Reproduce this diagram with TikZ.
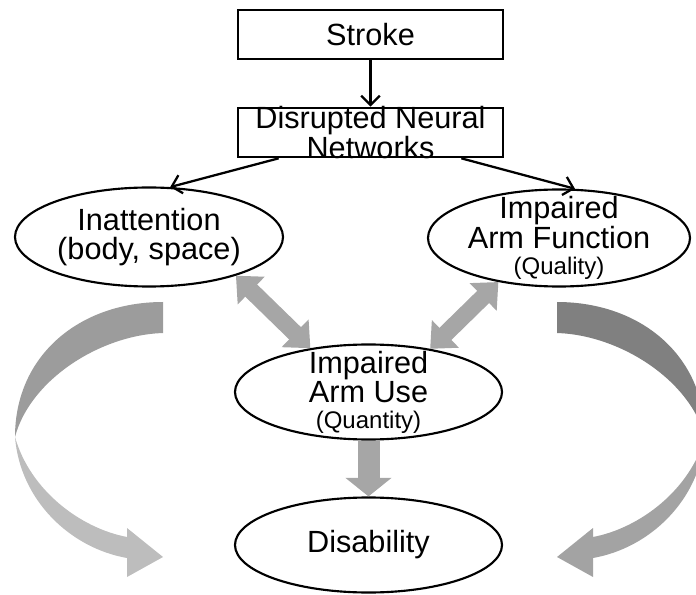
\documentclass[tikz,border=0pt]{standalone}
\usepackage{fontspec}
\setmainfont{Liberation Sans}
\usepackage{xcolor}
\usetikzlibrary{shapes.geometric,arrows.meta}

\newcommand{\bigtxt}{\fontsize{23}{19.5}\selectfont}
\newcommand{\smalltxt}{\fontsize{18}{19.5}\selectfont}

\begin{document}
\begin{tikzpicture}[x=0.75pt,y=0.75pt,yscale=-1,xscale=1,
  box/.style={draw,line width=2pt,minimum width=198.75pt,minimum height=36.75pt,inner sep=-10pt,align=center,font=\bigtxt},
  oval/.style={draw,ellipse,line width=1.6pt,inner sep=-14pt,align=center,font=\bigtxt},
  link/.style={line width=1.7pt,-{Straight Barb[length=7pt,width=14pt]}},
  twoway/.style={draw=black!35,line width=12.75pt,{Triangle[length=16pt,width=28pt]}-{Triangle[length=16pt,width=28pt]}},
  oneway/.style={draw=black!35,line width=16.5pt,-{Triangle[length=14pt,width=34pt]}}]
\useasboundingbox (0,0) rectangle (696,595);

%Shape: Rectangles
\node[box] (stroke) at (370.5,34.5) {Stroke};
\node[box] (disrupted) at (370.5,132.5) {Disrupted Neural\\Networks};

%Shape: Ellipses
\node[oval,minimum width=201pt,minimum height=74.25pt] (inatt) at (149,237) {Inattention\\[2pt](body, space)};
\node[oval,minimum width=196.5pt,minimum height=72.75pt] (armfunc) at (559,238) {Impaired\\Arm Function\\{\smalltxt(Quality)}};
\node[oval,minimum width=200.25pt,minimum height=71.25pt] (armuse) at (368.5,392) {Impaired\\Arm Use\\{\smalltxt(Quantity)}};
\node[oval,minimum width=200.25pt,minimum height=71.25pt] (disab) at (368.5,545) {Disability};

%Straight Lines
\draw[link] (stroke) -- (disrupted);
\draw[link] ([xshift=31.5pt]disrupted.south west) -- (inatt.67);
\draw[link] ([xshift=-32.25pt]disrupted.south east) -- (armfunc.72);

%Block arrows
\draw[twoway] (inatt.-24) -- (armuse.143);
\draw[twoway] (armfunc.216) -- (armuse.35);
\draw[oneway] (armuse.south) -- (disab.north);

%Curved arrow, left
\fill[black!39] (163,302) .. controls (80,302) and (15,355) .. (15,437)
  .. controls (30,380) and (100,335) .. (163,333) -- cycle;
\fill[black!26] (15,437) .. controls (20,500) and (70,548) .. (127,558)
  -- (127,577) -- (163,557) -- (127,528) -- (127,537)
  .. controls (80,528) and (30,490) .. (15,437) -- cycle;

%Curved arrow, right (mirror of the left one)
\begin{scope}
\clip (0,0) rectangle (696,595);
\begin{scope}[shift={(720,0)},xscale=-1]
\fill[black!50] (163,302) .. controls (80,302) and (15,355) .. (15,437)
  .. controls (30,380) and (100,335) .. (163,333) -- cycle;
\fill[black!36] (15,437) .. controls (20,500) and (70,548) .. (127,558)
  -- (127,577) -- (163,557) -- (127,528) -- (127,537)
  .. controls (80,528) and (30,490) .. (15,437) -- cycle;
\end{scope}
\end{scope}

\end{tikzpicture}
\end{document}
